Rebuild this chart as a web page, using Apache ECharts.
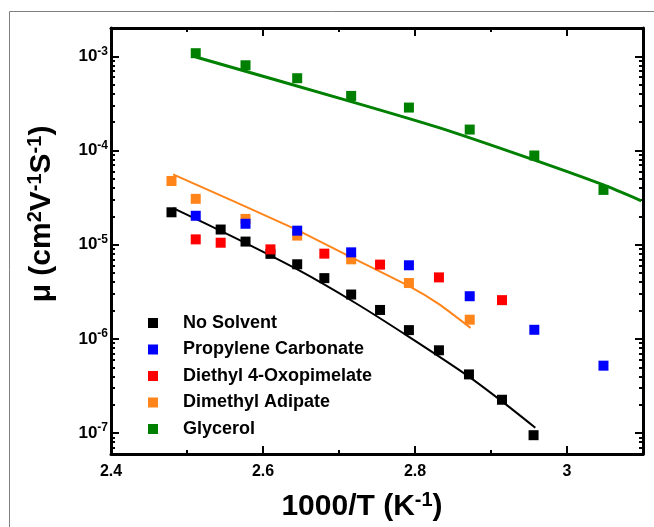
<!DOCTYPE html>
<html>
<head>
<meta charset="utf-8">
<script src="https://cdn.jsdelivr.net/npm/echarts@6/dist/echarts.min.js"></script>
<style>
html,body{margin:0;padding:0;background:#fff;}
#chart{width:654px;height:527px;}
</style>
</head>
<body>
<div id="chart"></div>
<script>
// ---- data ----
var xNoSolvent = [2.4796, 2.5443, 2.577, 2.6098, 2.645, 2.6807, 2.716, 2.754, 2.792, 2.8315, 2.871, 2.9145, 2.956];
var yNoSolvent = [2.21e-5, 1.45e-5, 1.08e-5, 8.0e-6, 6.2e-6, 4.42e-6, 2.96e-6, 2.03e-6, 1.24e-6, 7.57e-7, 4.2e-7, 2.26e-7, 9.5e-8];

var xPC = [2.5115, 2.577, 2.645, 2.716, 2.792, 2.872, 2.957, 3.048];
var yPC = [2.03e-5, 1.67e-5, 1.41e-5, 8.3e-6, 6.05e-6, 2.84e-6, 1.25e-6, 5.2e-7];

var xDOP = [2.5115, 2.5443, 2.6098, 2.6807, 2.754, 2.8315, 2.9145];
var yDOP = [1.14e-5, 1.05e-5, 8.93e-6, 8.04e-6, 6.15e-6, 4.5e-6, 2.58e-6];

var xDMA = [2.4796, 2.5115, 2.577, 2.645, 2.716, 2.792, 2.872];
var yDMA = [4.75e-5, 3.07e-5, 1.88e-5, 1.25e-5, 7.0e-6, 3.92e-6, 1.6e-6];

var xGly = [2.5115, 2.577, 2.645, 2.716, 2.792, 2.872, 2.957, 3.048];
var yGly = [1.08e-3, 8.04e-4, 5.86e-4, 3.8e-4, 2.86e-4, 1.67e-4, 8.86e-5, 3.82e-5];

// fitted curves
var xFitNoSolvent = [2.4817, 2.5626, 2.6452, 2.72, 2.7921, 2.8708, 2.9145, 2.9583];
var yFitNoSolvent = [2.45e-5, 1.19e-5, 5.46e-6, 2.45e-6, 1.05e-6, 3.98e-7, 2.17e-7, 1.14e-7];

var xFitDMA = [2.4817, 2.639, 2.709, 2.7928, 2.8315, 2.873];
var yFitDMA = [5.59e-5, 1.51e-5, 7.85e-6, 3.61e-6, 2.34e-6, 1.31e-6];

var xFitGly = [2.5115, 2.716, 2.8315, 2.9574, 3.0479, 3.0977];
var yFitGly = [9.84e-4, 3.31e-4, 1.75e-4, 7.9e-5, 4.31e-5, 2.93e-5];

var seriesNames = ['No Solvent', 'Propylene Carbonate', 'Diethyl 4-Oxopimelate', 'Dimethyl Adipate', 'Glycerol'];
var seriesColors = ['#000000', '#0000ff', '#ff0000', '#ff851b', '#008000'];

var xTicks = [2.4, 2.6, 2.8, 3.0];
var yMajorTicks = [1e-7, 1e-6, 1e-5, 1e-4, 1e-3];
var yMinorTicks = [];
[1e-8, 1e-7, 1e-6, 1e-5, 1e-4, 1e-3].forEach(function (d) {
  [2, 3, 4, 5, 6, 7, 8, 9].forEach(function (m) {
    var v = m * d;
    if (v > 6e-8 && v < 2e-3) yMinorTicks.push(v);
  });
});

function pairs(xs, ys) { return xs.map(function (x, i) { return [x, ys[i]]; }); }

var FONT = 'Liberation Sans, Arial, sans-serif';
var chart = echarts.init(document.getElementById('chart'), null, {renderer: 'canvas'});

var yBase = {
  type: 'log', min: 6e-8, max: 2e-3, logBase: 10,
  splitLine: {show: false}, minorTick: {show: false}, minorSplitLine: {show: false}
};

function yAxisDef(pos, major, showLabel, extra) {
  var a = Object.assign({}, yBase, {
    position: pos,
    axisLine: {show: major, onZero: false, lineStyle: {color: '#000', width: 3}},
    axisTick: {show: true, inside: true, length: major ? 8 : 4,
      lineStyle: {color: '#000', width: 2},
      customValues: major ? yMajorTicks : yMinorTicks},
    axisLabel: {show: showLabel}
  });
  return Object.assign(a, extra || {});
}

var fitLine = function (name, xs, ys, color, width) {
  return {name: name, type: 'line', data: pairs(xs, ys), smooth: 0.2,
    showSymbol: false, lineStyle: {color: color, width: width}, z: 1, silent: true};
};
var scat = function (idx, xs, ys, z) {
  return {name: seriesNames[idx], type: 'scatter', data: pairs(xs, ys), symbol: 'rect', symbolSize: 10,
    itemStyle: {color: seriesColors[idx], opacity: 1}, z: z};
};

var option = {
  animation: false,
  backgroundColor: '#fff',
  textStyle: {fontFamily: FONT},
  graphic: [{
    type: 'rect', z: -10, silent: true,
    shape: {x: 9.5, y: 11.5, width: 700, height: 600},
    style: {fill: 'none', stroke: '#808080', lineWidth: 1}
  }],
  grid: {left: 111, right: 11, top: 28, bottom: 70, containLabel: false},
  legend: {
    orient: 'vertical', left: 148, top: 314, padding: 0,
    itemWidth: 10, itemHeight: 10, itemGap: 8.5,
    icon: 'rect',
    data: seriesNames,
    textStyle: {fontFamily: FONT, fontSize: 18, fontWeight: 'bold', color: '#000',
      lineHeight: 18, padding: [0, 0, 0, 20]}
  },
  xAxis: [{
    type: 'value', position: 'bottom', min: 2.4, max: 3.1, interval: 0.2,
    axisLine: {onZero: false, lineStyle: {color: '#000', width: 3}},
    axisTick: {inside: true, length: 8, lineStyle: {color: '#000', width: 2}},
    minorTick: {show: true, splitNumber: 2, length: 4, lineStyle: {color: '#000', width: 2}},
    splitLine: {show: false},
    axisLabel: {color: '#000', fontSize: 16, fontWeight: 'bold', fontFamily: FONT, margin: 10,
      formatter: function (v) { return Math.abs(v - 3) < 1e-9 ? '3' : v.toFixed(1); },
      customValues: xTicks},
    name: '{a|1000/T (K}{s|-1}{a|)}',
    nameLocation: 'middle', nameGap: 36,
    nameTextStyle: {padding: [0, 30, 0, 0], rich: {
      a: {fontSize: 30, fontWeight: 'bold', fontFamily: FONT, color: '#000', lineHeight: 34},
      s: {fontSize: 20, fontWeight: 'bold', fontFamily: FONT, color: '#000', verticalAlign: 'top', lineHeight: 20}
    }}
  }, {
    type: 'value', position: 'top', min: 2.4, max: 3.1, interval: 0.2,
    axisLine: {onZero: false, lineStyle: {color: '#000', width: 3}},
    axisTick: {inside: true, length: 8, lineStyle: {color: '#000', width: 2}},
    minorTick: {show: true, splitNumber: 2, length: 4, lineStyle: {color: '#000', width: 2}},
    splitLine: {show: false},
    axisLabel: {show: false}
  }],
  yAxis: [
    yAxisDef('left', true, true, {
      axisLabel: {show: true, margin: 3, customValues: yMajorTicks,
        formatter: function (v) {
          var e = Math.round(Math.log(v) / Math.LN10);
          return '{b|10}{s|' + e + '}';
        },
        rich: {
          b: {fontSize: 17, fontWeight: 'bold', fontFamily: FONT, color: '#000', lineHeight: 22},
          s: {fontSize: 12, fontWeight: 'bold', fontFamily: FONT, color: '#000', verticalAlign: 'top', lineHeight: 13}
        }
      },
      name: '{a|μ (cm}{s|2}{a|V}{s|-1}{a|S}{s|-1}{a|)}',
      nameLocation: 'middle', nameGap: 52, nameRotate: 90,
      nameTextStyle: {padding: [0, 0, 0, 54], rich: {
        a: {fontSize: 30, fontWeight: 'bold', fontFamily: FONT, color: '#000', lineHeight: 34},
        s: {fontSize: 20, fontWeight: 'bold', fontFamily: FONT, color: '#000', verticalAlign: 'top', lineHeight: 20}
      }}
    }),
    yAxisDef('left', false, false),
    yAxisDef('right', true, false),
    yAxisDef('right', false, false)
  ],
  series: [
    fitLine('No Solvent fit', xFitNoSolvent, yFitNoSolvent, seriesColors[0], 2),
    fitLine('Dimethyl Adipate fit', xFitDMA, yFitDMA, seriesColors[3], 2),
    fitLine('Glycerol fit', xFitGly, yFitGly, seriesColors[4], 3),
    scat(0, xNoSolvent, yNoSolvent, 2),
    scat(3, xDMA, yDMA, 3),
    scat(2, xDOP, yDOP, 4),
    scat(1, xPC, yPC, 5),
    scat(4, xGly, yGly, 5)
  ]
};
chart.setOption(option);
</script>
</body>
</html>
